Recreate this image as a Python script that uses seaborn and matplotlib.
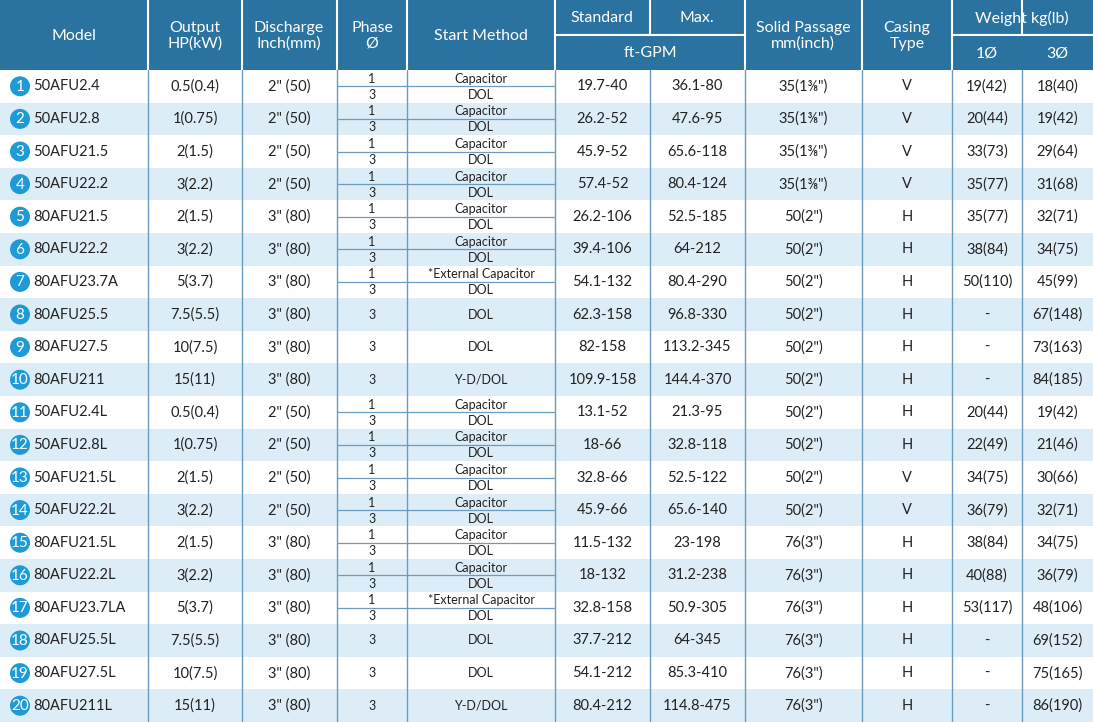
import matplotlib
matplotlib.use('Agg')
import matplotlib.pyplot as plt
from matplotlib.patches import Rectangle, Circle
import seaborn as sns

# Table data
models = ['50AFU2.4', '50AFU2.8', '50AFU21.5', '50AFU22.2', '80AFU21.5', '80AFU22.2', '80AFU23.7A',
          '80AFU25.5', '80AFU27.5', '80AFU211', '50AFU2.4L', '50AFU2.8L', '50AFU21.5L', '50AFU22.2L',
          '80AFU21.5L', '80AFU22.2L', '80AFU23.7LA', '80AFU25.5L', '80AFU27.5L', '80AFU211L']
output = ['0.5(0.4)', '1(0.75)', '2(1.5)', '3(2.2)', '2(1.5)', '3(2.2)', '5(3.7)', '7.5(5.5)', '10(7.5)', '15(11)',
          '0.5(0.4)', '1(0.75)', '2(1.5)', '3(2.2)', '2(1.5)', '3(2.2)', '5(3.7)', '7.5(5.5)', '10(7.5)', '15(11)']
discharge = ['2" (50)'] * 4 + ['3" (80)'] * 6 + ['2" (50)'] * 4 + ['3" (80)'] * 6
start_method = ['cap', 'cap', 'cap', 'cap', 'cap', 'cap', 'ext', 'DOL', 'DOL', 'Y-D/DOL',
                'cap', 'cap', 'cap', 'cap', 'cap', 'cap', 'ext', 'DOL', 'DOL', 'Y-D/DOL']
standard = ['19.7-40', '26.2-52', '45.9-52', '57.4-52', '26.2-106', '39.4-106', '54.1-132', '62.3-158', '82-158',
            '109.9-158', '13.1-52', '18-66', '32.8-66', '45.9-66', '11.5-132', '18-132', '32.8-158', '37.7-212',
            '54.1-212', '80.4-212']
maximum = ['36.1-80', '47.6-95', '65.6-118', '80.4-124', '52.5-185', '64-212', '80.4-290', '96.8-330', '113.2-345',
           '144.4-370', '21.3-95', '32.8-118', '52.5-122', '65.6-140', '23-198', '31.2-238', '50.9-305', '64-345',
           '85.3-410', '114.8-475']
solid = ['35(1⅜")'] * 4 + ['50(2")'] * 10 + ['76(3")'] * 6
casing = ['V', 'V', 'V', 'V', 'H', 'H', 'H', 'H', 'H', 'H', 'H', 'H', 'V', 'V', 'H', 'H', 'H', 'H', 'H', 'H']
weight1 = ['19(42)', '20(44)', '33(73)', '35(77)', '35(77)', '38(84)', '50(110)', '-', '-', '-',
           '20(44)', '22(49)', '34(75)', '36(79)', '38(84)', '40(88)', '53(117)', '-', '-', '-']
weight3 = ['18(40)', '19(42)', '29(64)', '31(68)', '32(71)', '34(75)', '45(99)', '67(148)', '73(163)', '84(185)',
           '19(42)', '21(46)', '30(66)', '32(71)', '34(75)', '36(79)', '48(106)', '69(152)', '75(165)', '86(190)']

sns.set_style('white')
plt.rcParams['font.family'] = ['Lato', 'DejaVu Sans']

W, H = 1093, 722
fig = plt.figure(figsize=(W / 100, H / 100), dpi=100)
ax = fig.add_axes([0, 0, 1, 1])
ax.set_xlim(0, W)
ax.set_ylim(H, 0)
ax.axis('off')

head = '#2a72a0'
light = '#dcedf8'
line = '#6a9cc0'
blue = '#1e9bd7'
cols = [0, 148, 242, 337, 407, 555, 650, 745, 862, 952, 1022, 1093]
top = 70
rh = (H - top) / 20

# header
ax.add_patch(Rectangle((0, 0), W, top, color=head, lw=0))
for x in cols[1:-1]:
    if x in (650, 1022):
        ax.plot([x, x], [0, 35], color='white', lw=1.5)
    else:
        ax.plot([x, x], [0, top], color='white', lw=1.5)
for x0, x1 in [(555, 745), (952, 1093)]:
    ax.plot([x0, x1], [35, 35], color='white', lw=1.5)

hs = dict(color='white', fontsize=11.5, ha='center', va='center', linespacing=1.15)
ax.text(74, 36, 'Model', **hs)
ax.text(195, 36, 'Output\nHP(kW)', **hs)
ax.text(289, 36, 'Discharge\nInch(mm)', **hs)
ax.text(372, 36, 'Phase\nØ', **hs)
ax.text(481, 36, 'Start Method', **hs)
ax.text(602, 18, 'Standard', **hs)
ax.text(697, 18, 'Max.', **hs)
ax.text(650, 53, 'ft-GPM', **hs)
ax.text(803, 36, 'Solid Passage\nmm(inch)', **hs)
ax.text(907, 36, 'Casing\nType', **hs)
ax.text(1022, 18, 'Weight kg(lb)', **hs)
ax.text(987, 53, '1Ø', **hs)
ax.text(1057, 53, '3Ø', **hs)

# body
bs = dict(color='#222222', fontsize=10.5, ha='center', va='center')
ss = dict(color='#222222', fontsize=9, ha='center', va='center')
for i in range(20):
    y0 = top + i * rh
    yc = y0 + rh / 2
    if i % 2 == 1:
        ax.add_patch(Rectangle((0, y0), W, rh, color=light, lw=0))
    ax.add_patch(Circle((20, yc), 10, color=blue, lw=0))
    ax.text(20, yc + 0.5, str(i + 1), color='white', fontsize=11, ha='center', va='center')
    ax.text(33, yc, models[i], color='#222222', fontsize=10.5, ha='left', va='center')
    vals = [output[i], discharge[i], None, None, standard[i], maximum[i], solid[i], casing[i], weight1[i], weight3[i]]
    for j, v in enumerate(vals):
        if v is None:
            continue
        ax.text((cols[j + 1] + cols[j + 2]) / 2, yc, v, **bs)
    sm = start_method[i]
    if sm in ('cap', 'ext'):
        ax.plot([337, 555], [yc, yc], color=line, lw=0.9)
        ax.text(372, y0 + rh * 0.27, '1', **ss)
        ax.text(372, y0 + rh * 0.76, '3', **ss)
        ax.text(481, y0 + rh * 0.27, 'Capacitor' if sm == 'cap' else '*External Capacitor', **ss)
        ax.text(481, y0 + rh * 0.76, 'DOL', **ss)
    else:
        ax.text(372, yc, '3', **ss)
        ax.text(481, yc, sm, **ss)

for x in cols[1:-1]:
    ax.plot([x, x], [top, H], color=line, lw=1)

fig.savefig('out.png', dpi=100)
